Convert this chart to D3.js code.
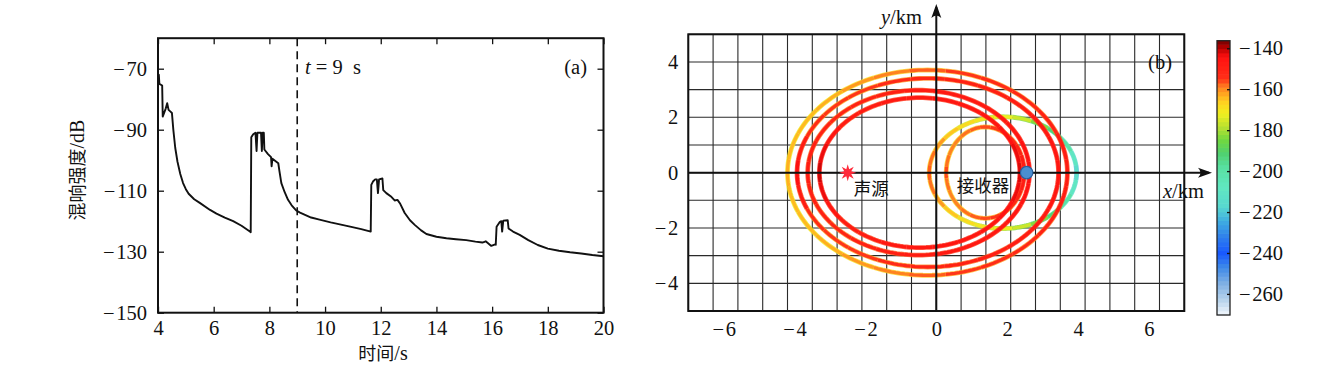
<!DOCTYPE html>
<html>
<head>
<meta charset="utf-8">
<script src="https://cdn.jsdelivr.net/npm/d3@7"></script>
<style>
  body { margin: 0; background: #fff; }
  text { font-family: "Liberation Serif", "DejaVu Serif", serif; fill: #111; }
  .cjk { font-family: "Noto Sans CJK SC", sans-serif; }
</style>
</head>
<body>
<svg id="chart" width="1339" height="370"></svg>
<script>
// ---- panel (a): reverberation level vs time ----
const timeS = [4.00, 4.03, 4.05, 4.15, 4.17, 4.22, 4.28, 4.33, 4.38, 4.44, 4.50, 4.55, 4.62, 4.70, 4.80, 4.90, 5.00,
  5.10, 5.30, 5.50, 5.87, 6.10, 6.40, 6.70, 7.00, 7.30, 7.33, 7.35, 7.42, 7.50, 7.54, 7.57, 7.70, 7.73, 7.76,
  7.80, 7.82, 7.95, 8.06, 8.08, 8.11, 8.25, 8.32, 8.36, 8.43, 8.55, 8.67, 8.80, 8.97, 9.10, 9.50, 9.80, 10.2,
  10.9, 11.3, 11.64, 11.66, 11.72, 11.80, 11.86, 11.90, 11.94, 12.06, 12.09, 12.20, 12.38, 12.50, 12.60, 12.70,
  12.86, 13.05, 13.22, 13.45, 13.64, 14.0, 14.36, 14.70, 15.07, 15.40, 15.65, 15.77, 15.97, 16.11, 16.13,
  16.16, 16.28, 16.33, 16.36, 16.40, 16.56, 16.59, 16.75, 16.99, 17.30, 17.64, 18.0, 18.4, 18.8, 19.2, 19.6, 20.0];
const levelDb = [-72, -72, -75, -75.5, -85.7, -84.5, -83, -81.3, -83.5, -84, -84.5, -90, -96, -100.5, -104.5, -107.5, -109.5,
  -111, -112.8, -114, -116.3, -117.5, -118.8, -120, -121.5, -123.4, -123.6, -92.5, -91.5, -91, -97, -91, -91, -97, -91,
  -91, -96.5, -98, -99, -102, -99.5, -100.5, -101, -103.5, -107.5, -110.5, -113, -114.8, -116.5, -117.2, -118.8, -119.5, -120.4,
  -121.8, -122.6, -123.4, -108.1, -107, -106.3, -106.3, -110.8, -106.3, -106, -109.8, -110.8, -112, -113.2, -113, -114.3,
  -117.3, -119.7, -121.2, -123, -124.2, -125.1, -125.6, -125.9, -126.2, -126.7, -127, -126.6, -128.1, -127.6, -127.7,
  -121.8, -120.2, -120, -123.4, -119.8, -119.7, -122.4, -123.4, -124.5, -126.2, -127.8, -129, -129.7, -130.2, -130.6, -131.1, -131.5];
const timeTicks = [4, 6, 8, 10, 12, 14, 16, 18, 20];
const dbTicks = [-150, -130, -110, -90, -70];
const markTime = 9;

// ---- panel (b): reverberation map at t = 9 s ----
const kmTicks = [-6, -4, -2, 0, 2, 4, 6];
const kmTicksY = [-4, -2, 0, 2, 4];
const gridX = [-7, -6.3, -5.6, -4.9, -4.2, -3.5, -2.8, -2.1, -1.4, -0.7, 0, 0.7, 1.4, 2.1, 2.8, 3.5, 4.2, 4.9, 5.6, 6.3, 7];
const gridY = [-5, -4, -3, -2, -1, 0, 1, 2, 3, 4, 5];
const source = { x: -2.5, y: 0, name: "声源" };
const receiver = { x: 2.55, y: 0, name: "接收器" };
// rings: centre x, semi-axes (km), and level (dB) per 15-degree sector, counter-clockwise from +x
const ringNames = ["smallOuter", "smallInner", "big1", "big2", "big3", "big4"];
const ringCx = [1.88, 1.38, -0.25, -0.24, -0.50, -0.47];
const ringRx = [2.08, 1.10, 3.95, 3.69, 3.13, 2.83];
const ringRy = [2.02, 1.65, 3.71, 3.41, 2.98, 2.71];
const ringLevels = [
  [-213, -208, -200, -192, -183, -176, -172, -170, -168, -165, -161, -158, -157, -158, -161, -165, -168, -170, -172, -176, -183, -192, -200, -208],
  [-147, -148, -150, -152, -154, -155, -156, -157, -158, -159, -159, -158, -156, -158, -159, -159, -158, -157, -156, -155, -154, -152, -150, -148],
  [-148, -148, -150, -152, -153, -155, -157, -159, -161, -163, -164, -164, -163, -164, -164, -163, -161, -159, -157, -155, -153, -152, -150, -148],
  [-146, -146, -147, -148, -149, -150, -151, -153, -155, -155, -153, -148, -144, -148, -153, -155, -155, -153, -151, -150, -149, -148, -147, -146],
  [-144, -145, -146, -147, -147, -147, -148, -149, -150, -151, -150, -149, -148, -149, -150, -151, -150, -149, -148, -147, -147, -147, -146, -145],
  [-142, -143, -145, -146, -146, -146, -147, -147, -148, -148, -146, -143, -141, -143, -146, -148, -148, -147, -147, -146, -146, -146, -145, -143]
];
const cbarTicks = [-260, -240, -220, -200, -180, -160, -140];
const cbarDomain = [-270.3, -136.3];
const cmapValues = [-270.2, -262.9, -254.8, -246.6, -240.1, -232, -223.8, -217.3, -207.6, -197.8, -191.3, -184.8, -178.3, -171.7, -166, -158.7, -154.7, -144.1, -139.2, -136.3];
const cmapColors = ["#f2f7fc", "#b8d4ec", "#80b0e4", "#3c88e8", "#1858ff", "#3080ec", "#40b0e0", "#58d8d0", "#60e8c0", "#58e0a0",
  "#50d070", "#70d840", "#b8e030", "#f0f020", "#ffd020", "#ff8020", "#ff3018", "#ff1010", "#b00000", "#780000"];

const svg = d3.select("#chart");
const minus = d => d < 0 ? "\u2212\u200A" + Math.abs(d) : String(d);

// ================= panel (a) =================
const xa = d3.scaleLinear().domain([4, 20]).range([158, 603.5]);
const ya = d3.scaleLinear().domain([-150, -60]).range([312.7, 38.2]);
const ga = svg.append("g");

function styleAxis(sel) {
  sel.select(".domain").remove();
  sel.selectAll(".tick line").attr("stroke", "#111").attr("stroke-width", 1.3);
  sel.selectAll(".tick text").style("font-family", "Liberation Serif, serif").style("font-size", "20.5px")
    .attr("fill", "#111");
}
ga.append("g").attr("transform", `translate(0,${ya(-150)})`)
  .call(d3.axisBottom(xa).tickValues(timeTicks).tickSizeInner(-6).tickSizeOuter(0).tickPadding(8).tickFormat(d3.format("d")))
  .call(styleAxis);
ga.append("g").attr("transform", `translate(0,${ya(-60)})`)
  .call(d3.axisTop(xa).tickValues(timeTicks).tickSizeInner(-6).tickSizeOuter(0).tickFormat(""))
  .call(styleAxis);
ga.append("g").attr("transform", `translate(${xa(4)},0)`)
  .call(d3.axisLeft(ya).tickValues(dbTicks).tickSizeInner(-6).tickSizeOuter(0).tickPadding(11).tickFormat(minus))
  .call(styleAxis);
ga.append("g").attr("transform", `translate(${xa(20)},0)`)
  .call(d3.axisRight(ya).tickValues(dbTicks).tickSizeInner(-6).tickSizeOuter(0).tickFormat(""))
  .call(styleAxis);

ga.append("line").attr("x1", xa(markTime)).attr("x2", xa(markTime)).attr("y1", ya(-60)).attr("y2", ya(-150))
  .attr("stroke", "#111").attr("stroke-width", 1.6).attr("stroke-dasharray", "8,5");

const series = timeS.map((t, i) => ({ t, v: levelDb[i] }));
ga.append("path").datum(series)
  .attr("fill", "none").attr("stroke", "#111").attr("stroke-width", 1.9).attr("stroke-linejoin", "round")
  .attr("d", d3.line().x(d => xa(d.t)).y(d => ya(d.v)));

ga.append("rect").attr("x", xa(4)).attr("y", ya(-60)).attr("width", xa(20) - xa(4)).attr("height", ya(-150) - ya(-60))
  .attr("fill", "none").attr("stroke", "#111").attr("stroke-width", 2);

const tl = ga.append("text").attr("x", 305).attr("y", 74).style("font-size", "20.5px");
tl.append("tspan").attr("font-style", "italic").text("t");
tl.append("tspan").text(" = 9  s").attr("xml:space", "preserve");
ga.append("text").attr("x", 587).attr("y", 74).attr("text-anchor", "end").style("font-size", "20.5px").text("(a)");

const yl = ga.append("text").attr("transform", "translate(84,170) rotate(-90)").attr("text-anchor", "middle").style("font-size", "18px");
yl.append("tspan").attr("class", "cjk").text("混响强度");
yl.append("tspan").style("font-size", "20px").text("/dB");
const xl = ga.append("text").attr("x", 383).attr("y", 360).attr("text-anchor", "middle").style("font-size", "18px");
xl.append("tspan").attr("class", "cjk").text("时间");
xl.append("tspan").style("font-size", "20px").text("/s");

// ================= panel (b) =================
const xb = d3.scaleLinear().domain([-7, 7]).range([688.3, 1184.3]);
const yb = d3.scaleLinear().domain([-5, 5]).range([311, 34.3]);
const color = d3.scaleLinear().domain(cmapValues).range(cmapColors).clamp(true);
const gb = svg.append("g");

gb.selectAll(".gx").data(gridX).join("line").attr("class", "gx")
  .attr("x1", d => xb(d)).attr("x2", d => xb(d)).attr("y1", yb(5)).attr("y2", yb(-5))
  .attr("stroke", "#2a2a2a").attr("stroke-width", 1.1);
gb.selectAll(".gy").data(gridY).join("line").attr("class", "gy")
  .attr("x1", xb(-7)).attr("x2", xb(7)).attr("y1", d => yb(d)).attr("y2", d => yb(d))
  .attr("stroke", "#2a2a2a").attr("stroke-width", 1.1);

// rings drawn sector by sector
const ringG = gb.append("g");
ringNames.forEach((name, r) => {
  const levels = ringLevels[r];
  const n = levels.length;
  levels.forEach((lv, i) => {
    const a0 = (i - 0.5) * 2 * Math.PI / n, a1 = (i + 0.5) * 2 * Math.PI / n;
    const pts = d3.range(0, 9).map(k => {
      const a = a0 + (a1 - a0) * k / 8;
      return [ringCx[r] + ringRx[r] * Math.cos(a), ringRy[r] * Math.sin(a)];
    });
    const line = d3.line().x(p => xb(p[0])).y(p => yb(p[1]));
    ringG.append("path").attr("d", line(pts)).attr("fill", "none")
      .attr("stroke", color(lv - 8)).attr("stroke-width", 4.8).attr("stroke-opacity", 0.8);
    ringG.append("path").attr("d", line(pts)).attr("fill", "none")
      .attr("stroke", color(lv)).attr("stroke-width", 3.3);
  });
});

gb.append("rect").attr("x", xb(-7)).attr("y", yb(5)).attr("width", xb(7) - xb(-7)).attr("height", yb(-5) - yb(5))
  .attr("fill", "none").attr("stroke", "#111").attr("stroke-width", 2);

// axes with arrows
gb.append("line").attr("x1", xb(-7)).attr("x2", 1209).attr("y1", yb(0)).attr("y2", yb(0)).attr("stroke", "#111").attr("stroke-width", 2);
gb.append("line").attr("x1", xb(0)).attr("x2", xb(0)).attr("y1", yb(-5)).attr("y2", 7).attr("stroke", "#111").attr("stroke-width", 2);
const arrow = "M0,0 L-14,-5 Q-9,0 -14,5 Z";
gb.append("path").attr("d", arrow).attr("transform", `translate(1212,${yb(0)})`).attr("fill", "#111");
gb.append("path").attr("d", arrow).attr("transform", `translate(${xb(0)},4) rotate(-90)`).attr("fill", "#111");

gb.append("g").attr("transform", `translate(0,${yb(-5)})`)
  .call(d3.axisBottom(xb).tickValues(kmTicks).tickSize(0).tickPadding(10).tickFormat(minus)).call(styleAxis);
gb.append("g").attr("transform", `translate(${xb(-7)},0)`)
  .call(d3.axisLeft(yb).tickValues(kmTicksY).tickSize(0).tickPadding(10).tickFormat(minus)).call(styleAxis);

const yk = gb.append("text").attr("x", 922).attr("y", 24).attr("text-anchor", "end").style("font-size", "20.5px");
yk.append("tspan").attr("font-style", "italic").text("y");
yk.append("tspan").text("/km");
const xk = gb.append("text").attr("x", 1204).attr("y", 198).attr("text-anchor", "end").style("font-size", "20.5px");
xk.append("tspan").attr("font-style", "italic").text("x");
xk.append("tspan").text("/km");
gb.append("text").attr("x", 1172).attr("y", 69).attr("text-anchor", "end").style("font-size", "20.5px").text("(b)");

// source star & receiver
const starPts = d3.range(16).map(k => {
  const a = k * Math.PI / 8 - Math.PI / 2, r = k % 2 ? 3.8 : 8.5;
  return [r * Math.cos(a), r * Math.sin(a)];
});
gb.append("path").attr("d", d3.line()(starPts) + "Z")
  .attr("transform", `translate(${xb(source.x)},${yb(source.y)})`).attr("fill", "#ff2a3a");
gb.append("text").attr("class", "cjk").attr("x", xb(source.x) + 6).attr("y", yb(0) + 22).style("font-size", "17.5px").text(source.name);
gb.append("circle").attr("cx", xb(receiver.x)).attr("cy", yb(receiver.y)).attr("r", 6.2)
  .attr("fill", "#4a8ed0").attr("stroke", "#2a5f9c").attr("stroke-width", 1.2);
gb.append("text").attr("class", "cjk").attr("x", xb(receiver.x) - 70).attr("y", yb(0) + 19).style("font-size", "17.5px").text(receiver.name);

// colour bar
const yc = d3.scaleLinear().domain(cbarDomain).range([315, 40.7]);
const cells = d3.range(cbarDomain[0], cbarDomain[1], 2.1);
const gc = svg.append("g");
gc.selectAll("rect.cell").data(cells).join("rect").attr("class", "cell")
  .attr("x", 1217).attr("width", 13)
  .attr("y", d => yc(Math.min(d + 2.1, cbarDomain[1])))
  .attr("height", d => yc(d) - yc(Math.min(d + 2.1, cbarDomain[1])) + 0.6)
  .attr("fill", d => color(d + 1.05));
gc.append("rect").attr("x", 1217).attr("y", yc(cbarDomain[1])).attr("width", 13).attr("height", yc(cbarDomain[0]) - yc(cbarDomain[1]))
  .attr("fill", "none").attr("stroke", "#222").attr("stroke-width", 1.3);
gc.append("g").attr("transform", "translate(1230,0)")
  .call(d3.axisRight(yc).tickValues(cbarTicks).tickSizeInner(-3).tickSizeOuter(0).tickPadding(9).tickFormat(minus))
  .call(styleAxis)
  .selectAll(".tick text").attr("text-anchor", "start");
</script>
</body>
</html>
